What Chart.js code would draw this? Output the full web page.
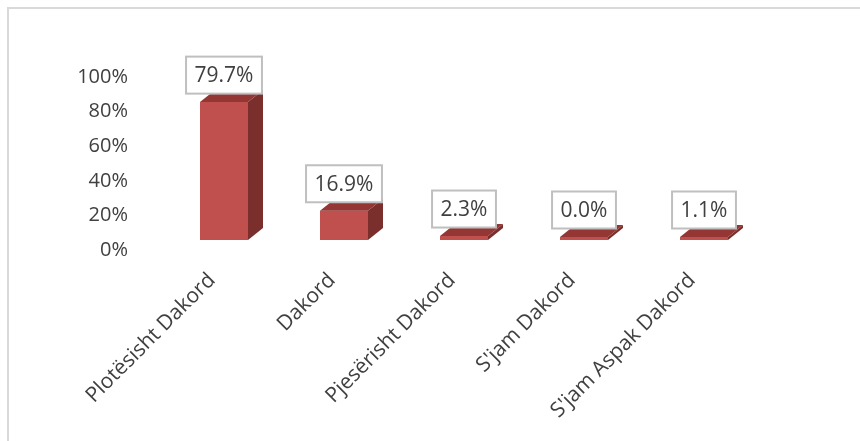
<!DOCTYPE html>
<html>
<head>
<meta charset="utf-8">
<script src="https://cdn.jsdelivr.net/npm/chart.js@4.4.1/dist/chart.umd.min.js"></script>
<style>
  html, body { margin: 0; padding: 0; background: #fff; }
  #wrap { width: 860px; height: 441px; }
</style>
</head>
<body>
<div id="wrap"><canvas id="chart" width="860" height="441"></canvas></div>
<script>
const categories = ['Plotësisht Dakord', 'Dakord', 'Pjesërisht Dakord', "S'jam Dakord", "S'jam Aspak Dakord"];
const shares = [79.7, 16.9, 2.3, 0.0, 1.1];
const yTicks = [0, 20, 40, 60, 80, 100];

const FONT = '"Open Sans", "Noto Sans", sans-serif';
const DEPTH_X = 15;
const DEPTH_Y = 12;

// light gray frame, only left and top edges show in the crop
const framePlugin = {
  id: 'frame',
  beforeDraw(chart) {
    const ctx = chart.ctx;
    ctx.save();
    ctx.fillStyle = '#fff';
    ctx.fillRect(0, 0, chart.width, chart.height);
    ctx.strokeStyle = '#d9d9d9';
    ctx.lineWidth = 2;
    ctx.beginPath();
    ctx.moveTo(8, chart.height);
    ctx.lineTo(8, 8);
    ctx.lineTo(chart.width, 8);
    ctx.stroke();
    ctx.restore();
  }
};

// side and top faces + boxed value labels
const bars3d = {
  id: 'bars3d',
  afterDatasetsDraw(chart) {
    const ctx = chart.ctx;
    const meta = chart.getDatasetMeta(0);
    ctx.save();
    meta.data.forEach((bar, i) => {
      const p = bar.getProps(['x', 'y', 'base', 'width'], true);
      const l = p.x - p.width / 2, r = p.x + p.width / 2;
      const top = p.y, bottom = p.base;
      // side
      ctx.fillStyle = '#7a2f2d';
      ctx.beginPath();
      ctx.moveTo(r, top);
      ctx.lineTo(r + DEPTH_X, top - DEPTH_Y);
      ctx.lineTo(r + DEPTH_X, bottom - DEPTH_Y);
      ctx.lineTo(r, bottom);
      ctx.closePath();
      ctx.fill();
      // top
      ctx.fillStyle = '#943634';
      ctx.beginPath();
      ctx.moveTo(l, top);
      ctx.lineTo(l + DEPTH_X, top - DEPTH_Y);
      ctx.lineTo(r + DEPTH_X, top - DEPTH_Y);
      ctx.lineTo(r, top);
      ctx.closePath();
      ctx.fill();
    });

    ctx.font = '21px ' + FONT;
    ctx.textAlign = 'center';
    ctx.textBaseline = 'middle';
    meta.data.forEach((bar, i) => {
      const txt = shares[i].toFixed(1) + '%';
      const w = ctx.measureText(txt).width + 17;
      const h = 37;
      const cx = bar.x, cy = bar.y - 27;
      ctx.fillStyle = '#fff';
      ctx.fillRect(cx - w / 2, cy - h / 2, w, h);
      ctx.strokeStyle = '#bfbfbf';
      ctx.lineWidth = 2;
      ctx.strokeRect(cx - w / 2, cy - h / 2, w, h);
      ctx.fillStyle = '#404040';
      ctx.fillText(txt, cx, cy + 1);
    });
    ctx.restore();
  }
};

new Chart(document.getElementById('chart').getContext('2d'), {
  type: 'bar',
  data: {
    labels: categories,
    datasets: [{
      data: shares,
      backgroundColor: '#c0504d',
      borderWidth: 0,
      barPercentage: 0.4,
      categoryPercentage: 1,
      minBarLength: 3
    }]
  },
  options: {
    responsive: false,
    animation: false,
    layout: { padding: { top: 67, right: 96, left: 0, bottom: 0 } },
    plugins: { legend: { display: false }, tooltip: { enabled: false } },
    scales: {
      x: {
        grid: { display: false, drawTicks: false },
        border: { display: false },
        ticks: {
          autoSkip: false,
          minRotation: 45,
          maxRotation: 45,
          padding: 28,
          labelOffset: -12,
          color: '#404040',
          font: { family: FONT, size: 21 }
        },
        afterFit(s) { s.height = 201; }
      },
      y: {
        min: 0,
        max: 100,
        grid: { display: false, drawTicks: false },
        border: { display: false },
        afterBuildTicks(s) { s.ticks = yTicks.map(v => ({ value: v })); },
        ticks: {
          padding: 36,
          labelOffset: 10,
          color: '#404040',
          font: { family: FONT, size: 20 },
          callback: v => v + '%'
        },
        afterFit(s) { s.width = 164; }
      }
    }
  },
  plugins: [framePlugin, bars3d]
});
</script>
</body>
</html>
